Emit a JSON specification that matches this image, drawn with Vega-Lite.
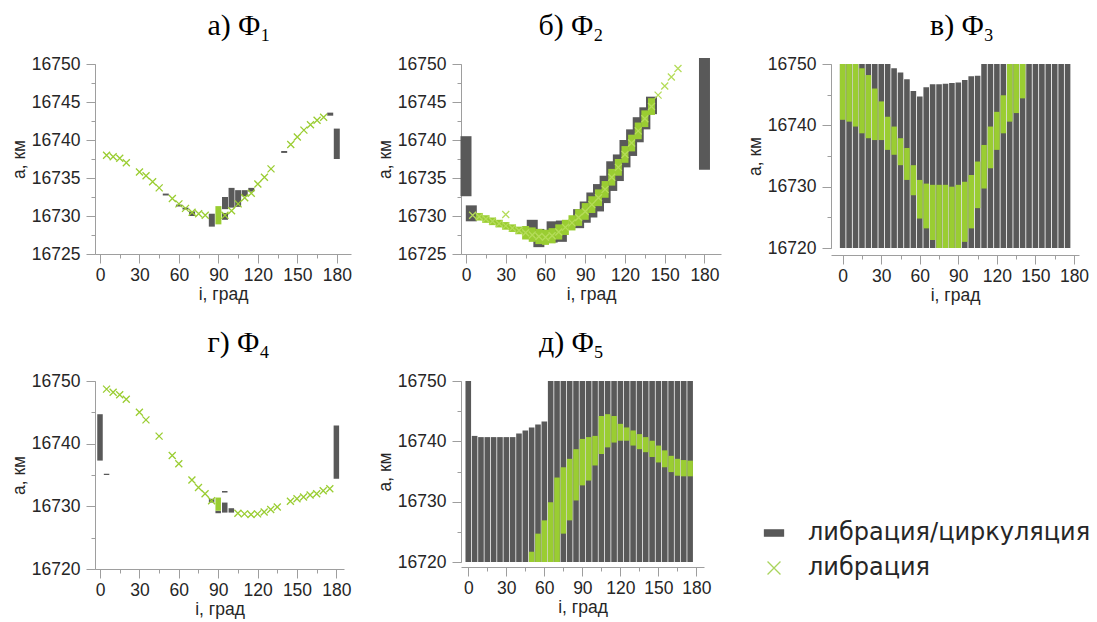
{
  "$schema": "https://vega.github.io/schema/vega-lite/v6.json",
  "background": "white",
  "padding": {"left": 10, "top": 11, "right": 5, "bottom": 5},
  "config": {
    "view": {"stroke": null},
    "axis": {
      "grid": false, "labelFlush": false, "labelOverlap": false,
      "domainColor": "#9e9e9e", "tickColor": "#9e9e9e", "domainWidth": 1, "tickWidth": 1,
      "labelFont": "Liberation Sans", "labelFontSize": 17.5, "labelColor": "#262626",
      "titleFont": "Liberation Sans", "titleFontSize": 17.5, "titleFontWeight": "normal", "titleColor": "#262626"
    },
    "title": {"font": "Liberation Serif", "fontSize": 30, "fontWeight": "normal", "color": "#000000", "anchor": "middle", "frame": "group", "offset": 14}
  },
  "datasets": {
    "bars": [
      {"p": "a", "i": 50, "lo": 16732.7, "hi": 16732.95, "k": "lc"},
      {"p": "a", "i": 60, "lo": 16731.25, "hi": 16731.5, "k": "lc"},
      {"p": "a", "i": 65, "lo": 16730.85, "hi": 16731.1, "k": "lc"},
      {"p": "a", "i": 70, "lo": 16730.0, "hi": 16730.6, "k": "lc"},
      {"p": "a", "i": 85, "lo": 16728.6, "hi": 16730.3, "k": "lc"},
      {"p": "a", "i": 95, "lo": 16730.9, "hi": 16732.5, "k": "lc"},
      {"p": "a", "i": 95, "lo": 16729.5, "hi": 16730.4, "k": "lc"},
      {"p": "a", "i": 100, "lo": 16731.1, "hi": 16733.7, "k": "lc"},
      {"p": "a", "i": 105, "lo": 16731.2, "hi": 16733.4, "k": "lc"},
      {"p": "a", "i": 110, "lo": 16732.6, "hi": 16733.4, "k": "lc"},
      {"p": "a", "i": 115, "lo": 16733.2, "hi": 16733.7, "k": "lc"},
      {"p": "a", "i": 140, "lo": 16738.3, "hi": 16738.55, "k": "lc"},
      {"p": "a", "i": 175, "lo": 16743.2, "hi": 16743.6, "k": "lc"},
      {"p": "a", "i": 180, "lo": 16737.5, "hi": 16741.5, "k": "lc"},
      {"p": "a", "i": 90, "lo": 16728.9, "hi": 16731.3, "k": "l"},

      {"p": "b", "i": 0, "lo": 16732.6, "hi": 16740.5, "k": "lc"},
      {"p": "b", "i": 4, "lo": 16729.3, "hi": 16731.4, "k": "lc"},
      {"p": "b", "i": 50, "lo": 16727.2, "hi": 16729.5, "k": "lc"},
      {"p": "b", "i": 55, "lo": 16725.9, "hi": 16728.3, "k": "lc"},
      {"p": "b", "i": 65, "lo": 16726.5, "hi": 16729.3, "k": "lc"},
      {"p": "b", "i": 72, "lo": 16726.6, "hi": 16729.4, "k": "lc"},
      {"p": "b", "i": 85, "lo": 16728.4, "hi": 16730.9, "k": "lc"},
      {"p": "b", "i": 90, "lo": 16729.1, "hi": 16731.9, "k": "lc"},
      {"p": "b", "i": 95, "lo": 16729.8, "hi": 16733.1, "k": "lc"},
      {"p": "b", "i": 100, "lo": 16730.6, "hi": 16734.2, "k": "lc"},
      {"p": "b", "i": 105, "lo": 16731.7, "hi": 16735.3, "k": "lc"},
      {"p": "b", "i": 110, "lo": 16733.3, "hi": 16737.2, "k": "lc"},
      {"p": "b", "i": 115, "lo": 16734.6, "hi": 16738.1, "k": "lc"},
      {"p": "b", "i": 120, "lo": 16736.4, "hi": 16740.0, "k": "lc"},
      {"p": "b", "i": 125, "lo": 16737.9, "hi": 16741.4, "k": "lc"},
      {"p": "b", "i": 130, "lo": 16739.7, "hi": 16743.0, "k": "lc"},
      {"p": "b", "i": 135, "lo": 16741.4, "hi": 16744.3, "k": "lc"},
      {"p": "b", "i": 140, "lo": 16743.4, "hi": 16745.7, "k": "lc"},
      {"p": "b", "i": 180, "lo": 16736.1, "hi": 16750.8, "k": "lc"},
      {"p": "b", "i": 10, "lo": 16729.4, "hi": 16730.4, "k": "l"},
      {"p": "b", "i": 15, "lo": 16729.1, "hi": 16730.1, "k": "l"},
      {"p": "b", "i": 20, "lo": 16728.8, "hi": 16729.8, "k": "l"},
      {"p": "b", "i": 25, "lo": 16728.5, "hi": 16729.5, "k": "l"},
      {"p": "b", "i": 30, "lo": 16728.2, "hi": 16729.2, "k": "l"},
      {"p": "b", "i": 35, "lo": 16727.9, "hi": 16728.9, "k": "l"},
      {"p": "b", "i": 40, "lo": 16727.6, "hi": 16728.6, "k": "l"},
      {"p": "b", "i": 45, "lo": 16726.9, "hi": 16728.7, "k": "l"},
      {"p": "b", "i": 50, "lo": 16726.6, "hi": 16728.5, "k": "l"},
      {"p": "b", "i": 55, "lo": 16726.3, "hi": 16728.3, "k": "l"},
      {"p": "b", "i": 60, "lo": 16726.2, "hi": 16728.2, "k": "l"},
      {"p": "b", "i": 65, "lo": 16726.4, "hi": 16728.4, "k": "l"},
      {"p": "b", "i": 70, "lo": 16726.9, "hi": 16728.9, "k": "l"},
      {"p": "b", "i": 75, "lo": 16727.5, "hi": 16729.5, "k": "l"},
      {"p": "b", "i": 80, "lo": 16728.1, "hi": 16730.1, "k": "l"},
      {"p": "b", "i": 85, "lo": 16728.7, "hi": 16730.9, "k": "l"},
      {"p": "b", "i": 90, "lo": 16729.5, "hi": 16731.7, "k": "l"},
      {"p": "b", "i": 95, "lo": 16730.4, "hi": 16732.6, "k": "l"},
      {"p": "b", "i": 100, "lo": 16731.3, "hi": 16733.5, "k": "l"},
      {"p": "b", "i": 105, "lo": 16732.4, "hi": 16734.6, "k": "l"},
      {"p": "b", "i": 110, "lo": 16734.0, "hi": 16736.2, "k": "l"},
      {"p": "b", "i": 115, "lo": 16735.3, "hi": 16737.5, "k": "l"},
      {"p": "b", "i": 120, "lo": 16737.0, "hi": 16739.2, "k": "l"},
      {"p": "b", "i": 125, "lo": 16738.5, "hi": 16740.7, "k": "l"},
      {"p": "b", "i": 130, "lo": 16740.1, "hi": 16742.3, "k": "l"},
      {"p": "b", "i": 135, "lo": 16741.7, "hi": 16743.9, "k": "l"},
      {"p": "b", "i": 140, "lo": 16743.3, "hi": 16745.5, "k": "l"},

      {"p": "c", "i": 0, "lo": 16720, "hi": 16750, "k": "lc"},
      {"p": "c", "i": 5, "lo": 16720, "hi": 16750, "k": "lc"},
      {"p": "c", "i": 10, "lo": 16720, "hi": 16750, "k": "lc"},
      {"p": "c", "i": 15, "lo": 16720, "hi": 16750, "k": "lc"},
      {"p": "c", "i": 20, "lo": 16720, "hi": 16750, "k": "lc"},
      {"p": "c", "i": 25, "lo": 16720, "hi": 16750, "k": "lc"},
      {"p": "c", "i": 30, "lo": 16720, "hi": 16750, "k": "lc"},
      {"p": "c", "i": 35, "lo": 16720, "hi": 16750, "k": "lc"},
      {"p": "c", "i": 40, "lo": 16720, "hi": 16749.3, "k": "lc"},
      {"p": "c", "i": 45, "lo": 16720, "hi": 16748.6, "k": "lc"},
      {"p": "c", "i": 50, "lo": 16720, "hi": 16747.5, "k": "lc"},
      {"p": "c", "i": 55, "lo": 16720, "hi": 16745.6, "k": "lc"},
      {"p": "c", "i": 60, "lo": 16720, "hi": 16744.7, "k": "lc"},
      {"p": "c", "i": 65, "lo": 16720, "hi": 16746.2, "k": "lc"},
      {"p": "c", "i": 70, "lo": 16720, "hi": 16746.7, "k": "lc"},
      {"p": "c", "i": 75, "lo": 16720, "hi": 16746.7, "k": "lc"},
      {"p": "c", "i": 80, "lo": 16720, "hi": 16746.8, "k": "lc"},
      {"p": "c", "i": 85, "lo": 16720, "hi": 16746.9, "k": "lc"},
      {"p": "c", "i": 90, "lo": 16720, "hi": 16747.0, "k": "lc"},
      {"p": "c", "i": 95, "lo": 16720, "hi": 16747.4, "k": "lc"},
      {"p": "c", "i": 100, "lo": 16720, "hi": 16748.0, "k": "lc"},
      {"p": "c", "i": 105, "lo": 16720, "hi": 16748.1, "k": "lc"},
      {"p": "c", "i": 110, "lo": 16720, "hi": 16750, "k": "lc"},
      {"p": "c", "i": 115, "lo": 16720, "hi": 16750, "k": "lc"},
      {"p": "c", "i": 120, "lo": 16720, "hi": 16750, "k": "lc"},
      {"p": "c", "i": 125, "lo": 16720, "hi": 16750, "k": "lc"},
      {"p": "c", "i": 130, "lo": 16720, "hi": 16750, "k": "lc"},
      {"p": "c", "i": 135, "lo": 16720, "hi": 16750, "k": "lc"},
      {"p": "c", "i": 140, "lo": 16720, "hi": 16750, "k": "lc"},
      {"p": "c", "i": 145, "lo": 16720, "hi": 16750, "k": "lc"},
      {"p": "c", "i": 150, "lo": 16720, "hi": 16750, "k": "lc"},
      {"p": "c", "i": 155, "lo": 16720, "hi": 16750, "k": "lc"},
      {"p": "c", "i": 160, "lo": 16720, "hi": 16750, "k": "lc"},
      {"p": "c", "i": 165, "lo": 16720, "hi": 16750, "k": "lc"},
      {"p": "c", "i": 170, "lo": 16720, "hi": 16750, "k": "lc"},
      {"p": "c", "i": 175, "lo": 16720, "hi": 16750, "k": "lc"},
      {"p": "c", "i": 0, "lo": 16740.9, "hi": 16750, "k": "l"},
      {"p": "c", "i": 5, "lo": 16740.6, "hi": 16750, "k": "l"},
      {"p": "c", "i": 10, "lo": 16739.8, "hi": 16750, "k": "l"},
      {"p": "c", "i": 15, "lo": 16738.7, "hi": 16749.3, "k": "l"},
      {"p": "c", "i": 20, "lo": 16737.9, "hi": 16748.2, "k": "l"},
      {"p": "c", "i": 25, "lo": 16737.6, "hi": 16746.0, "k": "l"},
      {"p": "c", "i": 30, "lo": 16737.6, "hi": 16743.9, "k": "l"},
      {"p": "c", "i": 35, "lo": 16736.0, "hi": 16741.4, "k": "l"},
      {"p": "c", "i": 40, "lo": 16735.2, "hi": 16739.8, "k": "l"},
      {"p": "c", "i": 45, "lo": 16733.5, "hi": 16737.9, "k": "l"},
      {"p": "c", "i": 50, "lo": 16731.1, "hi": 16736.3, "k": "l"},
      {"p": "c", "i": 55, "lo": 16728.6, "hi": 16733.5, "k": "l"},
      {"p": "c", "i": 60, "lo": 16724.8, "hi": 16731.1, "k": "l"},
      {"p": "c", "i": 65, "lo": 16723.2, "hi": 16730.5, "k": "l"},
      {"p": "c", "i": 70, "lo": 16721.3, "hi": 16730.3, "k": "l"},
      {"p": "c", "i": 75, "lo": 16720, "hi": 16730.3, "k": "l"},
      {"p": "c", "i": 80, "lo": 16720, "hi": 16730.3, "k": "l"},
      {"p": "c", "i": 85, "lo": 16720, "hi": 16730.0, "k": "l"},
      {"p": "c", "i": 90, "lo": 16720, "hi": 16730.3, "k": "l"},
      {"p": "c", "i": 95, "lo": 16721.0, "hi": 16730.8, "k": "l"},
      {"p": "c", "i": 100, "lo": 16723.2, "hi": 16731.9, "k": "l"},
      {"p": "c", "i": 105, "lo": 16726.5, "hi": 16734.1, "k": "l"},
      {"p": "c", "i": 110, "lo": 16729.7, "hi": 16736.8, "k": "l"},
      {"p": "c", "i": 115, "lo": 16733.0, "hi": 16739.8, "k": "l"},
      {"p": "c", "i": 120, "lo": 16736.0, "hi": 16742.2, "k": "l"},
      {"p": "c", "i": 125, "lo": 16738.7, "hi": 16744.9, "k": "l"},
      {"p": "c", "i": 130, "lo": 16740.6, "hi": 16750, "k": "l"},
      {"p": "c", "i": 135, "lo": 16742.0, "hi": 16750, "k": "l"},
      {"p": "c", "i": 140, "lo": 16744.4, "hi": 16750, "k": "l"},

      {"p": "d", "i": 0, "lo": 16737.3, "hi": 16744.7, "k": "lc"},
      {"p": "d", "i": 5, "lo": 16735.0, "hi": 16735.2, "k": "lc"},
      {"p": "d", "i": 85, "lo": 16730.6, "hi": 16731.2, "k": "lc"},
      {"p": "d", "i": 90, "lo": 16728.9, "hi": 16729.3, "k": "lc"},
      {"p": "d", "i": 95, "lo": 16729.0, "hi": 16730.6, "k": "lc"},
      {"p": "d", "i": 95, "lo": 16732.2, "hi": 16732.45, "k": "lc"},
      {"p": "d", "i": 100, "lo": 16729.0, "hi": 16729.7, "k": "lc"},
      {"p": "d", "i": 180, "lo": 16734.4, "hi": 16742.9, "k": "lc"},
      {"p": "d", "i": 90, "lo": 16729.3, "hi": 16731.4, "k": "l"},

      {"p": "e", "i": 0, "lo": 16720, "hi": 16750, "k": "lc"},
      {"p": "e", "i": 5, "lo": 16720, "hi": 16740.9, "k": "lc"},
      {"p": "e", "i": 10, "lo": 16720, "hi": 16740.7, "k": "lc"},
      {"p": "e", "i": 15, "lo": 16720, "hi": 16740.7, "k": "lc"},
      {"p": "e", "i": 20, "lo": 16720, "hi": 16740.7, "k": "lc"},
      {"p": "e", "i": 25, "lo": 16720, "hi": 16740.7, "k": "lc"},
      {"p": "e", "i": 30, "lo": 16720, "hi": 16740.7, "k": "lc"},
      {"p": "e", "i": 35, "lo": 16720, "hi": 16740.7, "k": "lc"},
      {"p": "e", "i": 40, "lo": 16720, "hi": 16741.3, "k": "lc"},
      {"p": "e", "i": 45, "lo": 16720, "hi": 16741.8, "k": "lc"},
      {"p": "e", "i": 50, "lo": 16720, "hi": 16742.3, "k": "lc"},
      {"p": "e", "i": 55, "lo": 16720, "hi": 16742.8, "k": "lc"},
      {"p": "e", "i": 60, "lo": 16720, "hi": 16743.3, "k": "lc"},
      {"p": "e", "i": 65, "lo": 16720, "hi": 16750, "k": "lc"},
      {"p": "e", "i": 70, "lo": 16720, "hi": 16750, "k": "lc"},
      {"p": "e", "i": 75, "lo": 16720, "hi": 16750, "k": "lc"},
      {"p": "e", "i": 80, "lo": 16720, "hi": 16750, "k": "lc"},
      {"p": "e", "i": 85, "lo": 16720, "hi": 16750, "k": "lc"},
      {"p": "e", "i": 90, "lo": 16720, "hi": 16750, "k": "lc"},
      {"p": "e", "i": 95, "lo": 16720, "hi": 16750, "k": "lc"},
      {"p": "e", "i": 100, "lo": 16720, "hi": 16750, "k": "lc"},
      {"p": "e", "i": 105, "lo": 16720, "hi": 16750, "k": "lc"},
      {"p": "e", "i": 110, "lo": 16720, "hi": 16750, "k": "lc"},
      {"p": "e", "i": 115, "lo": 16720, "hi": 16750, "k": "lc"},
      {"p": "e", "i": 120, "lo": 16720, "hi": 16750, "k": "lc"},
      {"p": "e", "i": 125, "lo": 16720, "hi": 16750, "k": "lc"},
      {"p": "e", "i": 130, "lo": 16720, "hi": 16750, "k": "lc"},
      {"p": "e", "i": 135, "lo": 16720, "hi": 16750, "k": "lc"},
      {"p": "e", "i": 140, "lo": 16720, "hi": 16750, "k": "lc"},
      {"p": "e", "i": 145, "lo": 16720, "hi": 16750, "k": "lc"},
      {"p": "e", "i": 150, "lo": 16720, "hi": 16750, "k": "lc"},
      {"p": "e", "i": 155, "lo": 16720, "hi": 16750, "k": "lc"},
      {"p": "e", "i": 160, "lo": 16720, "hi": 16750, "k": "lc"},
      {"p": "e", "i": 165, "lo": 16720, "hi": 16750, "k": "lc"},
      {"p": "e", "i": 170, "lo": 16720, "hi": 16750, "k": "lc"},
      {"p": "e", "i": 175, "lo": 16720, "hi": 16750, "k": "lc"},
      {"p": "e", "i": 50, "lo": 16720, "hi": 16721.7, "k": "l"},
      {"p": "e", "i": 55, "lo": 16720, "hi": 16724.7, "k": "l"},
      {"p": "e", "i": 60, "lo": 16720, "hi": 16726.9, "k": "l"},
      {"p": "e", "i": 65, "lo": 16720, "hi": 16729.9, "k": "l"},
      {"p": "e", "i": 70, "lo": 16720, "hi": 16734.0, "k": "l"},
      {"p": "e", "i": 75, "lo": 16724.7, "hi": 16735.7, "k": "l"},
      {"p": "e", "i": 80, "lo": 16726.9, "hi": 16737.1, "k": "l"},
      {"p": "e", "i": 85, "lo": 16730.2, "hi": 16738.7, "k": "l"},
      {"p": "e", "i": 90, "lo": 16732.7, "hi": 16740.4, "k": "l"},
      {"p": "e", "i": 95, "lo": 16733.5, "hi": 16740.7, "k": "l"},
      {"p": "e", "i": 100, "lo": 16736.0, "hi": 16740.9, "k": "l"},
      {"p": "e", "i": 105, "lo": 16737.9, "hi": 16744.2, "k": "l"},
      {"p": "e", "i": 110, "lo": 16739.0, "hi": 16744.5, "k": "l"},
      {"p": "e", "i": 115, "lo": 16739.8, "hi": 16744.2, "k": "l"},
      {"p": "e", "i": 120, "lo": 16740.1, "hi": 16742.9, "k": "l"},
      {"p": "e", "i": 125, "lo": 16740.1, "hi": 16742.3, "k": "l"},
      {"p": "e", "i": 130, "lo": 16739.3, "hi": 16741.8, "k": "l"},
      {"p": "e", "i": 135, "lo": 16738.7, "hi": 16741.2, "k": "l"},
      {"p": "e", "i": 140, "lo": 16738.2, "hi": 16740.7, "k": "l"},
      {"p": "e", "i": 145, "lo": 16737.4, "hi": 16740.1, "k": "l"},
      {"p": "e", "i": 150, "lo": 16736.5, "hi": 16739.3, "k": "l"},
      {"p": "e", "i": 155, "lo": 16735.7, "hi": 16738.5, "k": "l"},
      {"p": "e", "i": 160, "lo": 16734.9, "hi": 16737.6, "k": "l"},
      {"p": "e", "i": 165, "lo": 16734.3, "hi": 16737.1, "k": "l"},
      {"p": "e", "i": 170, "lo": 16734.2, "hi": 16736.9, "k": "l"},
      {"p": "e", "i": 175, "lo": 16734.2, "hi": 16736.8, "k": "l"}
    ],
    "pts": [
      {"p": "a", "i": 5, "a": 16738.0}, {"p": "a", "i": 10, "a": 16737.8}, {"p": "a", "i": 15, "a": 16737.6},
      {"p": "a", "i": 20, "a": 16737.0}, {"p": "a", "i": 30, "a": 16735.8}, {"p": "a", "i": 35, "a": 16735.3},
      {"p": "a", "i": 40, "a": 16734.5}, {"p": "a", "i": 45, "a": 16733.7}, {"p": "a", "i": 55, "a": 16732.3},
      {"p": "a", "i": 60, "a": 16731.6}, {"p": "a", "i": 65, "a": 16731.0}, {"p": "a", "i": 70, "a": 16730.5},
      {"p": "a", "i": 75, "a": 16730.3}, {"p": "a", "i": 80, "a": 16730.1}, {"p": "a", "i": 95, "a": 16730.1},
      {"p": "a", "i": 100, "a": 16730.7}, {"p": "a", "i": 105, "a": 16731.6}, {"p": "a", "i": 110, "a": 16732.4},
      {"p": "a", "i": 115, "a": 16733.0}, {"p": "a", "i": 120, "a": 16734.2}, {"p": "a", "i": 125, "a": 16735.1},
      {"p": "a", "i": 130, "a": 16736.2}, {"p": "a", "i": 145, "a": 16739.4}, {"p": "a", "i": 150, "a": 16740.4},
      {"p": "a", "i": 155, "a": 16741.3}, {"p": "a", "i": 160, "a": 16742.0}, {"p": "a", "i": 165, "a": 16742.6},
      {"p": "a", "i": 170, "a": 16743.0},

      {"p": "b", "i": 5, "a": 16730.1}, {"p": "b", "i": 10, "a": 16729.9}, {"p": "b", "i": 15, "a": 16729.6},
      {"p": "b", "i": 20, "a": 16729.3}, {"p": "b", "i": 25, "a": 16729.0}, {"p": "b", "i": 30, "a": 16728.7},
      {"p": "b", "i": 30, "a": 16730.2}, {"p": "b", "i": 35, "a": 16728.4}, {"p": "b", "i": 40, "a": 16728.1},
      {"p": "b", "i": 45, "a": 16727.8}, {"p": "b", "i": 50, "a": 16727.5}, {"p": "b", "i": 55, "a": 16727.3},
      {"p": "b", "i": 60, "a": 16727.2}, {"p": "b", "i": 65, "a": 16727.4}, {"p": "b", "i": 70, "a": 16727.9},
      {"p": "b", "i": 75, "a": 16728.5}, {"p": "b", "i": 80, "a": 16729.1}, {"p": "b", "i": 85, "a": 16729.8},
      {"p": "b", "i": 90, "a": 16730.6}, {"p": "b", "i": 95, "a": 16731.5}, {"p": "b", "i": 100, "a": 16732.4},
      {"p": "b", "i": 105, "a": 16733.5}, {"p": "b", "i": 110, "a": 16735.1}, {"p": "b", "i": 115, "a": 16736.4},
      {"p": "b", "i": 120, "a": 16738.1}, {"p": "b", "i": 125, "a": 16739.6}, {"p": "b", "i": 130, "a": 16741.2},
      {"p": "b", "i": 135, "a": 16742.8}, {"p": "b", "i": 140, "a": 16744.4}, {"p": "b", "i": 145, "a": 16745.9},
      {"p": "b", "i": 150, "a": 16747.1}, {"p": "b", "i": 155, "a": 16748.3}, {"p": "b", "i": 160, "a": 16749.4},

      {"p": "d", "i": 5, "a": 16748.7}, {"p": "d", "i": 10, "a": 16748.2}, {"p": "d", "i": 15, "a": 16747.8},
      {"p": "d", "i": 20, "a": 16747.1}, {"p": "d", "i": 30, "a": 16745.0}, {"p": "d", "i": 35, "a": 16743.8},
      {"p": "d", "i": 45, "a": 16741.2}, {"p": "d", "i": 55, "a": 16738.1}, {"p": "d", "i": 60, "a": 16736.8},
      {"p": "d", "i": 70, "a": 16734.2}, {"p": "d", "i": 75, "a": 16733.0}, {"p": "d", "i": 80, "a": 16732.0},
      {"p": "d", "i": 85, "a": 16730.9}, {"p": "d", "i": 105, "a": 16728.9}, {"p": "d", "i": 110, "a": 16728.8},
      {"p": "d", "i": 115, "a": 16728.7}, {"p": "d", "i": 120, "a": 16728.8}, {"p": "d", "i": 125, "a": 16729.1},
      {"p": "d", "i": 130, "a": 16729.5}, {"p": "d", "i": 135, "a": 16729.9}, {"p": "d", "i": 145, "a": 16730.8},
      {"p": "d", "i": 150, "a": 16731.2}, {"p": "d", "i": 155, "a": 16731.5}, {"p": "d", "i": 160, "a": 16731.8},
      {"p": "d", "i": 165, "a": 16732.0}, {"p": "d", "i": 170, "a": 16732.5}, {"p": "d", "i": 175, "a": 16732.8}
    ]
  },
  "columns": 3,
  "spacing": {"row": 127, "column": 110},
  "bounds": "flush",
  "concat": [
    {
      "width": 256, "height": 190,
      "title": {"text": "а) Φ₁", "dx": 16},
      "layer": [
        {
          "data": {"name": "bars"},
          "transform": [{"filter": "datum.p === 'a' && datum.k === 'lc'"}],
          "mark": {"type": "bar", "size": 6},
          "encoding": {
            "x": {"field": "i", "type": "quantitative", "scale": {"domain": [0, 187], "nice": false, "zero": false},
                  "axis": {"values": [0, 30, 60, 90, 120, 150, 180], "format": "d", "tickSize": 9, "labelPadding": 3, "title": "i, град", "titlePadding": 2}},
            "y": {"field": "lo", "type": "quantitative", "scale": {"domain": [16725, 16750], "nice": false, "zero": false},
                  "axis": {"values": [16725, 16730, 16735, 16740, 16745, 16750], "format": "d", "tickSize": 9, "labelPadding": 6, "title": "a, км", "titlePadding": 3}},
            "y2": {"field": "hi"},
            "color": {
              "field": "k", "type": "nominal",
              "scale": {"domain": ["lc", "l"], "range": ["#595959", "#9acd32"]},
              "legend": {
                "orient": "none", "legendX": 667, "legendY": 457, "title": null,
                "labelExpr": "datum.value === 'l' ? 'либрация' : 'либрация/циркуляция'",
                "labelFont": "DejaVu Sans", "labelFontSize": 24, "labelColor": "#262626", "labelLimit": 0,
                "symbolSize": 361, "labelOffset": 22, "rowPadding": 11,
                "encoding": {
                  "symbols": {
                    "shape": {"condition": {"test": "datum.value === 'l'", "value": "M-0.68,-0.68L0.68,0.68M0.68,-0.68L-0.68,0.68"}, "value": "M-1,-0.33H1V0.33H-1Z"},
                    "fill": {"condition": {"test": "datum.value === 'l'", "value": "transparent"}, "value": "#595959"},
                    "stroke": {"condition": {"test": "datum.value === 'l'", "value": "#a9d45c"}, "value": "#595959"},
                    "strokeWidth": {"value": 1.3},
                    "opacity": {"value": 1}
                  }
                }
              }
            }
          }
        },
        {
          "data": {"name": "bars"},
          "transform": [{"filter": "datum.p === 'a' && datum.k === 'l'"}],
          "mark": {"type": "bar", "size": 6, "color": "#9acd32"},
          "encoding": {
            "x": {"field": "i", "type": "quantitative", "axis": {"orient": "bottom", "values": [0, 15, 30, 45, 60, 75, 90, 105, 120, 135, 150, 165, 180], "tickSize": 4, "labels": false, "domain": false, "title": null}},
            "y": {"field": "lo", "type": "quantitative", "axis": {"orient": "left", "values": [16725, 16727.5, 16730, 16732.5, 16735, 16737.5, 16740, 16742.5, 16745, 16747.5, 16750], "tickSize": 4, "labels": false, "domain": false, "title": null}},
            "y2": {"field": "hi"}
          }
        },
        {
          "data": {"name": "pts"},
          "transform": [{"filter": "datum.p === 'a'"}],
          "mark": {"type": "point", "shape": "M-1,-1L1,1M1,-1L-1,1", "filled": false, "color": "#9acd32", "strokeWidth": 1.3, "size": 49, "opacity": 1},
          "encoding": {
            "x": {"field": "i", "type": "quantitative", "axis": null},
            "y": {"field": "a", "type": "quantitative", "axis": null}
          }
        }
      ],
      "resolve": {"axis": {"x": "independent", "y": "independent"}}
    },
    {
      "width": 260, "height": 190,
      "title": {"text": "б) Φ₂", "dx": -20},
      "layer": [
        {
          "data": {"name": "bars"},
          "transform": [{"filter": "datum.p === 'b' && datum.k === 'lc'"}],
          "mark": {"type": "bar", "size": 11, "color": "#595959"},
          "encoding": {
            "x": {"field": "i", "type": "quantitative", "scale": {"domain": [0, 188.7], "nice": false, "zero": false},
                  "axis": {"values": [0, 30, 60, 90, 120, 150, 180], "format": "d", "tickSize": 9, "labelPadding": 3, "title": "i, град", "titlePadding": 2}},
            "y": {"field": "lo", "type": "quantitative", "scale": {"domain": [16725, 16750], "nice": false, "zero": false},
                  "axis": {"values": [16725, 16730, 16735, 16740, 16745, 16750], "format": "d", "tickSize": 9, "labelPadding": 6, "title": "a, км", "titlePadding": 3}},
            "y2": {"field": "hi"}
          }
        },
        {
          "data": {"name": "bars"},
          "transform": [{"filter": "datum.p === 'b' && datum.k === 'l'"}],
          "mark": {"type": "bar", "size": 7, "color": "#9acd32"},
          "encoding": {
            "x": {"field": "i", "type": "quantitative", "axis": {"orient": "bottom", "values": [0, 15, 30, 45, 60, 75, 90, 105, 120, 135, 150, 165, 180], "tickSize": 4, "labels": false, "domain": false, "title": null}},
            "y": {"field": "lo", "type": "quantitative", "axis": {"orient": "left", "values": [16725, 16727.5, 16730, 16732.5, 16735, 16737.5, 16740, 16742.5, 16745, 16747.5, 16750], "tickSize": 4, "labels": false, "domain": false, "title": null}},
            "y2": {"field": "hi"}
          }
        },
        {
          "data": {"name": "pts"},
          "transform": [{"filter": "datum.p === 'b'"}],
          "mark": {"type": "point", "shape": "M-1,-1L1,1M1,-1L-1,1", "filled": false, "color": "#b5dc5a", "strokeWidth": 1.3, "size": 49, "opacity": 1},
          "encoding": {
            "x": {"field": "i", "type": "quantitative", "axis": null},
            "y": {"field": "a", "type": "quantitative", "axis": null}
          }
        }
      ],
      "resolve": {"axis": {"x": "independent", "y": "independent"}}
    },
    {
      "width": 248, "height": 184,
      "title": {"text": "в) Φ₃", "dx": 7},
      "layer": [
        {
          "data": {"name": "bars"},
          "transform": [{"filter": "datum.p === 'c' && datum.k === 'lc'"}],
          "mark": {"type": "bar", "size": 5.6, "color": "#595959"},
          "encoding": {
            "x": {"field": "i", "type": "quantitative", "scale": {"domain": [-5.2, 180], "nice": false, "zero": false},
                  "axis": {"values": [0, 30, 60, 90, 120, 150, 180], "format": "d", "tickSize": 9, "offset": 7, "labelPadding": 3, "title": "i, град", "titlePadding": 2}},
            "y": {"field": "lo", "type": "quantitative", "scale": {"domain": [16720, 16750], "nice": false, "zero": false},
                  "axis": {"values": [16720, 16730, 16740, 16750], "format": "d", "tickSize": 9, "labelPadding": 6, "title": "a, км", "titlePadding": 3}},
            "y2": {"field": "hi"}
          }
        },
        {
          "data": {"name": "bars"},
          "transform": [{"filter": "datum.p === 'c' && datum.k === 'l'"}],
          "mark": {"type": "bar", "size": 5.6, "color": "#9acd32"},
          "encoding": {
            "x": {"field": "i", "type": "quantitative", "axis": {"orient": "bottom", "offset": 7, "values": [0, 15, 30, 45, 60, 75, 90, 105, 120, 135, 150, 165, 180], "tickSize": 4, "labels": false, "domain": false, "title": null}},
            "y": {"field": "lo", "type": "quantitative", "axis": {"orient": "left", "values": [16720, 16725, 16730, 16735, 16740, 16745, 16750], "tickSize": 4, "labels": false, "domain": false, "title": null}},
            "y2": {"field": "hi"}
          }
        }
      ],
      "resolve": {"axis": {"x": "independent", "y": "independent"}}
    },
    {
      "width": 249, "height": 188,
      "title": {"text": "г) Φ₄", "dx": 19},
      "layer": [
        {
          "data": {"name": "bars"},
          "transform": [{"filter": "datum.p === 'd' && datum.k === 'lc'"}],
          "mark": {"type": "bar", "size": 5.5, "color": "#595959"},
          "encoding": {
            "x": {"field": "i", "type": "quantitative", "scale": {"domain": [0, 182], "nice": false, "zero": false},
                  "axis": {"values": [0, 30, 60, 90, 120, 150, 180], "format": "d", "tickSize": 9, "labelPadding": 3, "title": "i, град", "titlePadding": 2}},
            "y": {"field": "lo", "type": "quantitative", "scale": {"domain": [16720, 16750], "nice": false, "zero": false},
                  "axis": {"values": [16720, 16730, 16740, 16750], "format": "d", "tickSize": 9, "labelPadding": 6, "title": "a, км", "titlePadding": 3}},
            "y2": {"field": "hi"}
          }
        },
        {
          "data": {"name": "bars"},
          "transform": [{"filter": "datum.p === 'd' && datum.k === 'l'"}],
          "mark": {"type": "bar", "size": 5.5, "color": "#9acd32"},
          "encoding": {
            "x": {"field": "i", "type": "quantitative", "axis": {"orient": "bottom", "values": [0, 15, 30, 45, 60, 75, 90, 105, 120, 135, 150, 165, 180], "tickSize": 4, "labels": false, "domain": false, "title": null}},
            "y": {"field": "lo", "type": "quantitative", "axis": {"orient": "left", "values": [16720, 16725, 16730, 16735, 16740, 16745, 16750], "tickSize": 4, "labels": false, "domain": false, "title": null}},
            "y2": {"field": "hi"}
          }
        },
        {
          "data": {"name": "pts"},
          "transform": [{"filter": "datum.p === 'd'"}],
          "mark": {"type": "point", "shape": "M-1,-1L1,1M1,-1L-1,1", "filled": false, "color": "#9acd32", "strokeWidth": 1.3, "size": 49, "opacity": 1},
          "encoding": {
            "x": {"field": "i", "type": "quantitative", "axis": null},
            "y": {"field": "a", "type": "quantitative", "axis": null}
          }
        }
      ],
      "resolve": {"axis": {"x": "independent", "y": "independent"}}
    },
    {
      "width": 243, "height": 181,
      "title": {"text": "д) Φ₅", "dx": -11},
      "layer": [
        {
          "data": {"name": "bars"},
          "transform": [{"filter": "datum.p === 'e' && datum.k === 'lc'"}],
          "mark": {"type": "bar", "size": 5.6, "color": "#595959"},
          "encoding": {
            "x": {"field": "i", "type": "quantitative", "scale": {"domain": [-1.8, 182], "nice": false, "zero": false},
                  "axis": {"values": [0, 30, 60, 90, 120, 150, 180], "format": "d", "tickSize": 9, "offset": 5, "labelPadding": 3, "title": "i, град", "titlePadding": 2}},
            "y": {"field": "lo", "type": "quantitative", "scale": {"domain": [16720, 16750], "nice": false, "zero": false},
                  "axis": {"values": [16720, 16730, 16740, 16750], "format": "d", "tickSize": 9, "labelPadding": 6, "title": "a, км", "titlePadding": 3}},
            "y2": {"field": "hi"}
          }
        },
        {
          "data": {"name": "bars"},
          "transform": [{"filter": "datum.p === 'e' && datum.k === 'l'"}],
          "mark": {"type": "bar", "size": 5.6, "color": "#9acd32"},
          "encoding": {
            "x": {"field": "i", "type": "quantitative", "axis": {"orient": "bottom", "offset": 5, "values": [0, 15, 30, 45, 60, 75, 90, 105, 120, 135, 150, 165, 180], "tickSize": 4, "labels": false, "domain": false, "title": null}},
            "y": {"field": "lo", "type": "quantitative", "axis": {"orient": "left", "values": [16720, 16725, 16730, 16735, 16740, 16745, 16750], "tickSize": 4, "labels": false, "domain": false, "title": null}},
            "y2": {"field": "hi"}
          }
        }
      ],
      "resolve": {"axis": {"x": "independent", "y": "independent"}}
    }
  ]
}
